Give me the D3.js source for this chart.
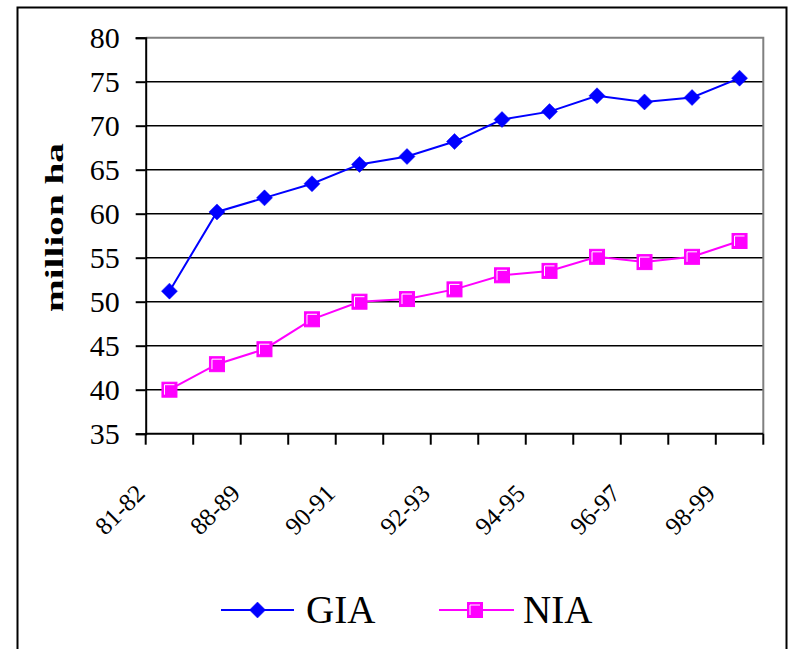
<!DOCTYPE html>
<html>
<head>
<meta charset="utf-8">
<script src="https://cdn.jsdelivr.net/npm/d3@7"></script>
<style>
  html, body { margin: 0; padding: 0; background: #fff; }
  svg { display: block; }
</style>
</head>
<body>
<svg id="chart" width="788" height="649"></svg>
<script>
const categories = ["81-82","87-88","88-89","89-90","90-91","91-92","92-93","93-94","94-95","95-96","96-97","97-98","98-99"];
const giaValues = [51.2, 60.2, 61.8, 63.4, 65.6, 66.5, 68.2, 70.7, 71.6, 73.4, 72.7, 73.2, 75.4];
const niaValues = [40.0, 42.9, 44.6, 48.0, 50.0, 50.3, 51.4, 53.0, 53.5, 55.1, 54.5, 55.1, 56.9];
const yTicks = [35, 40, 45, 50, 55, 60, 65, 70, 75, 80];
const seriesNames = ["GIA", "NIA"];
const yTitle = "million ha";

(function () {
const svg = d3.select("#chart");
const pLeft = 145.7, pRight = 763.3, pTop = 37.7, pBottom = 433.7;
const FONT = '"Liberation Serif"';

const x = d3.scaleBand().domain(categories).range([pLeft, pRight]).paddingInner(0).paddingOuter(0);
const y = d3.scaleLinear().domain([35, 80]).range([pBottom, pTop]);

// outer border
svg.append("rect").attr("x", 17.5).attr("y", 7.5).attr("width", 769).attr("height", 660)
  .attr("fill", "none").attr("stroke", "#000").attr("stroke-width", 2);

// gridlines
svg.append("g").selectAll("line").data(yTicks.filter(t => t > 35 && t < 80)).join("line")
  .attr("x1", pLeft).attr("x2", pRight).attr("y1", d => y(d)).attr("y2", d => y(d))
  .attr("stroke", "#000").attr("stroke-width", 1.5);

// plot area gray top/right border
svg.append("path")
  .attr("d", `M${pLeft},${y(80)}H${pRight}V${y(35)}`)
  .attr("fill", "none").attr("stroke", "#808080").attr("stroke-width", 2);

// y axis
const yAxis = d3.axisLeft(y).tickValues(yTicks).tickSize(10).tickPadding(16).tickFormat(d3.format("d"));
const gy = svg.append("g").attr("transform", `translate(${pLeft},0)`).call(yAxis);
gy.attr("font-family", null).attr("font-size", null);
gy.select(".domain").attr("stroke", "#000").attr("stroke-width", 2);
gy.selectAll(".tick line").attr("stroke", "#000").attr("stroke-width", 2);
gy.selectAll(".tick text").attr("fill", "#000").attr("dy", "0.33em")
  .style("font-family", FONT).style("font-size", "30px");

// x axis baseline + ticks at band boundaries
svg.append("line").attr("x1", pLeft).attr("x2", pRight).attr("y1", pBottom).attr("y2", pBottom)
  .attr("stroke", "#000").attr("stroke-width", 2);
const boundaries = categories.map(c => x(c)).concat([x(categories[categories.length - 1]) + x.bandwidth()]);
svg.append("g").selectAll("line").data(boundaries).join("line")
  .attr("x1", d => d).attr("x2", d => d).attr("y1", pBottom).attr("y2", pBottom + 11)
  .attr("stroke", "#000").attr("stroke-width", 2);

// x labels (every other)
svg.append("g").selectAll("text").data(categories.filter((c, i) => i % 2 === 0)).join("text")
  .attr("transform", d => `translate(${x(d) + x.bandwidth() / 2 - 23},495) rotate(-45)`)
  .attr("text-anchor", "end").attr("fill", "#000")
  .style("font-family", FONT).style("font-size", "25px").text(d => d);

// y title
svg.append("text").attr("transform", "translate(63,227.5) rotate(-90)")
  .attr("text-anchor", "middle")
  .attr("textLength", 169).attr("lengthAdjust", "spacingAndGlyphs").attr("fill", "#000")
  .style("font-family", FONT).style("font-size", "25px").style("font-weight", "bold")
  .text(yTitle);

const cx = d => x(d) + x.bandwidth() / 2;
const line = d3.line().x(d => cx(d.c)).y(d => y(d.v));

const giaData = categories.map((c, i) => ({c, v: giaValues[i]}));
const niaData = categories.map((c, i) => ({c, v: niaValues[i]}));

function diamond(g, px, py) {
  g.append("path").attr("d", `M${px},${py - 8}L${px + 8},${py}L${px},${py + 8}L${px - 8},${py}Z`)
    .attr("fill", "#0000FF").attr("stroke", "#0000FF").attr("stroke-width", 0.5);
}
function square(g, px, py) {
  g.append("rect").attr("x", px - 7.5).attr("y", py - 7.5).attr("width", 15).attr("height", 15)
    .attr("fill", "#FF00FF").attr("stroke", "#FF00FF").attr("stroke-width", 1);
  g.append("path").attr("d", `M${px - 5},${py + 5}V${py - 5}H${px + 5}`)
    .attr("fill", "none").attr("stroke", "#fff").attr("stroke-width", 1);
}

// series lines
svg.append("path").datum(niaData).attr("d", line).attr("fill", "none").attr("stroke", "#FF00FF").attr("stroke-width", 2);
const nm = svg.append("g");
niaData.forEach(d => square(nm, cx(d.c), y(d.v)));

svg.append("path").datum(giaData).attr("d", line).attr("fill", "none").attr("stroke", "#0000FF").attr("stroke-width", 2);
const gm = svg.append("g");
giaData.forEach(d => diamond(gm, cx(d.c), y(d.v)));

// legend
const lg = svg.append("g");
lg.append("line").attr("x1", 221).attr("x2", 294).attr("y1", 610).attr("y2", 610).attr("stroke", "#0000FF").attr("stroke-width", 2);
diamond(lg, 257.5, 610);
lg.append("text").attr("x", 306).attr("y", 623).attr("fill", "#000")
  .style("font-family", FONT).style("font-size", "39px").text(seriesNames[0]);
lg.append("line").attr("x1", 439).attr("x2", 514).attr("y1", 610).attr("y2", 610).attr("stroke", "#FF00FF").attr("stroke-width", 2);
square(lg, 475, 610);
lg.append("text").attr("x", 523).attr("y", 623).attr("fill", "#000")
  .style("font-family", FONT).style("font-size", "39px").text(seriesNames[1]);
})();
</script>
</body>
</html>
